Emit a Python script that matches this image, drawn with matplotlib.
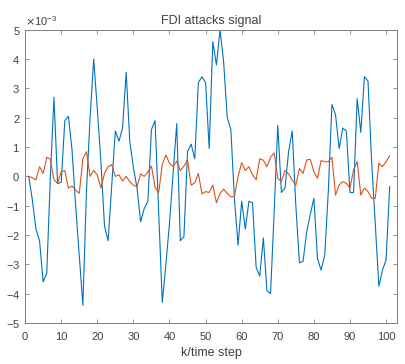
import matplotlib
matplotlib.use("Agg")
import matplotlib.pyplot as plt
from matplotlib.ticker import ScalarFormatter, MultipleLocator

plt.rcParams['font.family'] = ['Liberation Sans', 'DejaVu Sans']

# time steps 1..101
k = list(range(1, 102))

# FDI attack signal (blue), in units of 1e-3
attack = [0.0, -0.8, -1.8, -2.2, -3.6, -3.3, 0.0, 2.7, -0.25, -0.2,
          1.9, 2.05, 0.9, -1.0, -2.7, -4.4, -0.5, 2.0, 4.0, 2.3,
          0.5, -1.7, -2.2, -0.3, 1.55, 1.2, 1.65, 3.55, 1.2, 0.3,
          -0.4, -1.55, -1.1, -0.85, 1.6, 1.9, -1.2, -4.3, -3.0, -1.6,
          0.1, 1.8, -2.2, -2.05, 0.85, 1.1, 0.6, 3.2, 3.4, 3.2,
          0.95, 4.6, 3.8, 5.0, 3.9, 2.0, 1.6, -0.8, -2.35, -0.85,
          -1.8, -0.85, -0.9, -3.1, -3.4, -2.1, -3.9, -4.0, -1.2, 1.74,
          -0.55, -0.4, 0.85, 1.55, -1.0, -2.95, -2.9, -1.9, -1.3, -0.75,
          -2.8, -3.2, -2.7, -0.5, 2.45, 2.1, 0.95, 1.65, 1.55, -0.55,
          -0.55, 2.65, 1.5, 3.4, 3.25, 0.5, -1.6, -3.75, -3.2, -2.85,
          -0.35]

# estimated attack signal (orange), in units of 1e-3
estimate = [0.0, -0.05, -0.12, 0.33, 0.1, 0.65, 0.58, -0.12, -0.24, 0.16,
            0.2, -0.4, -0.33, -0.47, -0.58, 0.6, 0.84, 0.0, 0.2, 0.05,
            -0.4, 0.1, 0.33, 0.4, 0.0, 0.05, -0.16, 0.0, -0.18, -0.3,
            -0.35, 0.08, 0.0, 0.15, 0.35, -0.38, -0.55, 0.4, 0.73, 0.45,
            0.33, 0.52, 0.2, 0.35, 0.56, -0.3, -0.22, 0.1, -0.6, -0.52,
            -0.55, -0.3, -0.9, -0.58, -0.44, -0.58, -0.7, -0.68, 0.0, 0.47,
            0.2, 0.33, 0.05, -0.12, 0.6, 0.55, 0.33, 0.65, 0.8, -0.07,
            -0.18, 0.2, 0.08, -0.12, -0.3, 0.27, 0.1, 0.56, 0.58, 0.16,
            -0.07, 0.54, 0.5, 0.5, 0.65, -0.64, -0.3, -0.18, -0.24, -0.4,
            0.22, 0.5, -0.64, -0.4, -0.52, -0.75, -0.75, 0.45, 0.33, 0.5,
            0.7]

scale = 1e-3
txt = '#404040'

fig = plt.figure(figsize=(4.05, 3.64), dpi=100)
ax = fig.add_axes([0.062, 0.113, 0.918, 0.805])

ax.plot(k, [v * scale for v in attack], color='#0072BD', linewidth=0.8)
ax.plot(k, [v * scale for v in estimate], color='#D95319', linewidth=0.8)

ax.set_xlim(0, 103)
ax.set_ylim(-5e-3, 5e-3)
ax.xaxis.set_major_locator(MultipleLocator(10))
ax.yaxis.set_major_locator(MultipleLocator(1e-3))

fmt = ScalarFormatter(useMathText=True)
fmt.set_powerlimits((-2, 2))
ax.yaxis.set_major_formatter(fmt)
ax.yaxis.get_offset_text().set_fontsize(8)
ax.yaxis.get_offset_text().set_color(txt)

ax.tick_params(direction='in', top=True, right=True, length=3,
               labelsize=8, colors='#808080', labelcolor=txt, width=0.6)
ax.tick_params(axis='x', pad=6.5)
for s in ax.spines.values():
    s.set_color('#808080')
    s.set_linewidth(0.7)

ax.set_title('FDI attacks signal', fontsize=9, pad=4, color=txt)
ax.set_xlabel('k/time step', fontsize=9, labelpad=3.5, color=txt)

fig.savefig('out.png', dpi=100)
